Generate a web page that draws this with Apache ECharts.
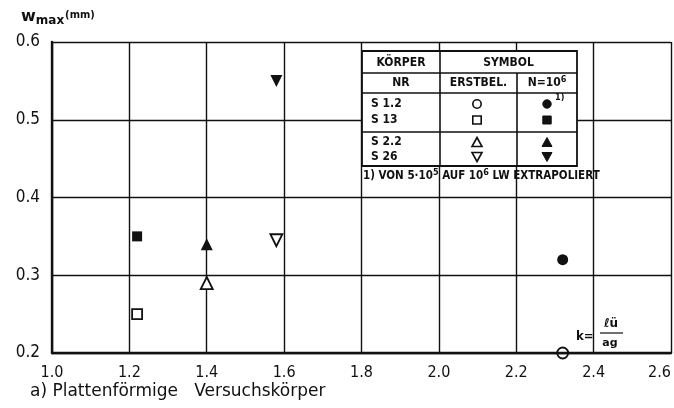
<!DOCTYPE html>
<html>
<head>
<meta charset="utf-8">
<script src="https://cdn.jsdelivr.net/npm/echarts@6/dist/echarts.min.js"></script>
<style>
  html, body { margin: 0; padding: 0; background: #fff; }
  #chart { width: 674px; height: 408px; }
</style>
</head>
<body>
<div id="chart"></div>
<script>
// Slenderness k = l_ü / a_g for each specimen and maximum deflection w_max (mm)
const bodies = ['S 1.2', 'S 13', 'S 2.2', 'S 26'];
const kValues = [2.32, 1.22, 1.40, 1.58];
const wInitial = [0.20, 0.25, 0.29, 0.345];   // Erstbelastung
const wAfterN = [0.32, 0.35, 0.34, 0.55];     // nach N = 10^6 Lastwechseln
const symbols = ['circle', 'rect', 'triangle', 'triangle'];
const rotations = [0, 0, 0, 180];

const xTicks = [1.0, 1.2, 1.4, 1.6, 1.8, 2.0, 2.2, 2.4, 2.6];
const yTicks = [0.2, 0.3, 0.4, 0.5, 0.6];

const FONT = 'DejaVu Sans';
const INK = '#111';

const chart = echarts.init(document.getElementById('chart'), null, { renderer: 'canvas' });

const series = [];
bodies.forEach((name, i) => {
  const size = symbols[i] === 'rect' ? 10 : (symbols[i] === 'circle' ? 11 : 12);
  // open symbol: first loading
  series.push({
    name: name + ' Erstbel.',
    type: 'scatter',
    symbol: symbols[i],
    symbolRotate: rotations[i],
    symbolSize: size,
    data: [[kValues[i], wInitial[i]]],
    itemStyle: {
      color: symbols[i] === 'circle' ? 'rgba(255,255,255,0)' : '#fff',
      borderColor: INK,
      borderWidth: 1.8,
      opacity: 1
    },
    z: 5
  });
  // filled symbol: after N = 10^6
  series.push({
    name: name + ' N=10^6',
    type: 'scatter',
    symbol: symbols[i],
    symbolRotate: rotations[i],
    symbolSize: size,
    data: [[kValues[i], wAfterN[i]]],
    itemStyle: { color: INK, opacity: 1 },
    z: 5
  });
});

// key table (white box over the grid)
const T = { x0: 362, x1: 577, y0: 51, y1: 166, c1: 440, c2: 517, r1: 73, r2: 93, r3: 132 };
const lineStyle = { stroke: INK, lineWidth: 1.6 };
const tableText = (x, y, text, align, size) => ({
  type: 'text', x: x, y: y,
  style: { text: text, fill: INK, font: 'bold ' + (size || 12) + 'px "' + FONT + ' Condensed", "' + FONT + '"', textAlign: align || 'center', textVerticalAlign: 'middle' },
  z: 20
});
const seg = (x1, y1, x2, y2) => ({ type: 'line', shape: { x1, y1, x2, y2 }, style: lineStyle, z: 20 });

function keyShape(sym, x, y, filled, down) {
  const st = filled ? { fill: INK, stroke: INK, lineWidth: 1 } : { fill: '#fff', stroke: INK, lineWidth: 1.6 };
  if (sym === 'circle') return { type: 'circle', shape: { cx: x, cy: y, r: 4.2 }, style: st, z: 21 };
  if (sym === 'rect') return { type: 'rect', shape: { x: x - 4.2, y: y - 4, width: 8.4, height: 8 }, style: st, z: 21 };
  const h = 9, w = 10;
  const pts = down
    ? [[x - w / 2, y - h / 2], [x + w / 2, y - h / 2], [x, y + h / 2]]
    : [[x - w / 2, y + h / 2], [x + w / 2, y + h / 2], [x, y - h / 2]];
  return { type: 'polygon', shape: { points: pts }, style: st, z: 21 };
}

const rowsY = [104, 120, 142, 157];
const graphics = [
  { type: 'rect', shape: { x: T.x0, y: T.y0, width: T.x1 - T.x0, height: T.y1 - T.y0 },
    style: { fill: '#fff', stroke: INK, lineWidth: 1.8 }, z: 19 },
  seg(T.x0, T.r1, T.x1, T.r1),
  seg(T.x0, T.r2, T.x1, T.r2),
  seg(T.x0, T.r3, T.x1, T.r3),
  seg(T.c1, T.y0, T.c1, T.y1),
  seg(T.c2, T.r1, T.c2, T.y1),
  tableText((T.x0 + T.c1) / 2, 63, 'KÖRPER'),
  tableText((T.c1 + T.x1) / 2, 63, 'SYMBOL'),
  tableText((T.x0 + T.c1) / 2, 83, 'NR'),
  tableText((T.c1 + T.c2) / 2, 83, 'ERSTBEL.'),
  { type: 'text', x: (T.c2 + T.x1) / 2, y: 83, z: 20,
    style: { text: '{b|N=10}{s|6}', textAlign: 'center', textVerticalAlign: 'middle',
      rich: { b: { fill: INK, font: 'bold 12px "' + FONT + ' Condensed"' }, s: { fill: INK, font: 'bold 9px "' + FONT + ' Condensed"', padding: [0, 0, 7, 0] } } } },
  { type: 'text', x: 555, y: 98, z: 21,
    style: { text: '1)', fill: INK, font: 'bold 9px "' + FONT + ' Condensed"', textVerticalAlign: 'middle' } },
  { type: 'text', x: 363, y: 176, z: 20,
    style: { text: '{b|1) VON 5·10}{s|5}{b| AUF 10}{s|6}{b| LW EXTRAPOLIERT}', textVerticalAlign: 'middle',
      rich: { b: { fill: INK, font: 'bold 11.5px "' + FONT + ' Condensed"' }, s: { fill: INK, font: 'bold 9px "' + FONT + ' Condensed"', padding: [0, 0, 7, 0] } } } }
];
bodies.forEach((name, i) => {
  graphics.push(tableText(371, rowsY[i], name, 'left'));
  graphics.push(keyShape(symbols[i], 477, rowsY[i], false, rotations[i] === 180));
  graphics.push(keyShape(symbols[i], 547, rowsY[i], true, rotations[i] === 180));
});

// axis title, caption and k definition
graphics.push(
  { type: 'text', x: 21, y: 17, z: 20,
    style: { text: '{w|w}{m|max}{u|(mm)}', textVerticalAlign: 'middle',
      rich: {
        w: { fill: INK, font: 'bold 16px "' + FONT + '"' },
        m: { fill: INK, font: 'bold 12px "' + FONT + '"', padding: [7, 0, 0, 0] },
        u: { fill: INK, font: 'bold 11px "' + FONT + ' Condensed"', padding: [0, 0, 4, 1] }
      } } },
  { type: 'text', x: 30, y: 392, z: 20,
    style: { text: 'a) Plattenförmige   Versuchskörper', fill: INK, font: '17px "' + FONT + '"', textVerticalAlign: 'middle' } },
  { type: 'text', x: 576, y: 337, z: 20,
    style: { text: 'k=', fill: INK, font: 'bold 13px "' + FONT + ' Condensed"', textVerticalAlign: 'middle' } },
  { type: 'text', x: 611, y: 324, z: 20,
    style: { text: 'ℓü', fill: INK, font: 'bold 12px "' + FONT + '"', textAlign: 'center', textVerticalAlign: 'middle' } },
  { type: 'line', shape: { x1: 600, y1: 333, x2: 623, y2: 333 }, style: { stroke: INK, lineWidth: 1.2 }, z: 20 },
  { type: 'text', x: 610, y: 343, z: 20,
    style: { text: 'ag', fill: INK, font: 'bold 11px "' + FONT + '"', textAlign: 'center', textVerticalAlign: 'middle' } }
);

chart.setOption({
  backgroundColor: '#fff',
  animation: false,
  grid: { left: 52, right: 3, top: 42, bottom: 55, containLabel: false, outerBoundsMode: 'none' },
  xAxis: {
    type: 'value', min: xTicks[0], max: xTicks[xTicks.length - 1], interval: 0.2,
    axisLine: { show: true, lineStyle: { color: INK, width: 2.4 } },
    axisTick: { show: false },
    splitLine: { show: true, lineStyle: { color: INK, width: 1.4 } },
    axisLabel: { color: INK, fontFamily: FONT + ' Condensed', fontSize: 16, margin: 12,
      hideOverlap: false, alignMaxLabel: 'right', formatter: v => v.toFixed(1) }
  },
  yAxis: {
    type: 'value', min: yTicks[0], max: yTicks[yTicks.length - 1], interval: 0.1,
    axisLine: { show: true, lineStyle: { color: INK, width: 2.4 } },
    axisTick: { show: false },
    splitLine: { show: true, lineStyle: { color: INK, width: 1.4 } },
    axisLabel: { color: INK, fontFamily: FONT + ' Condensed', fontSize: 17, margin: 12,
      formatter: v => v.toFixed(1) }
  },
  series: series,
  graphic: graphics
});
</script>
</body>
</html>
